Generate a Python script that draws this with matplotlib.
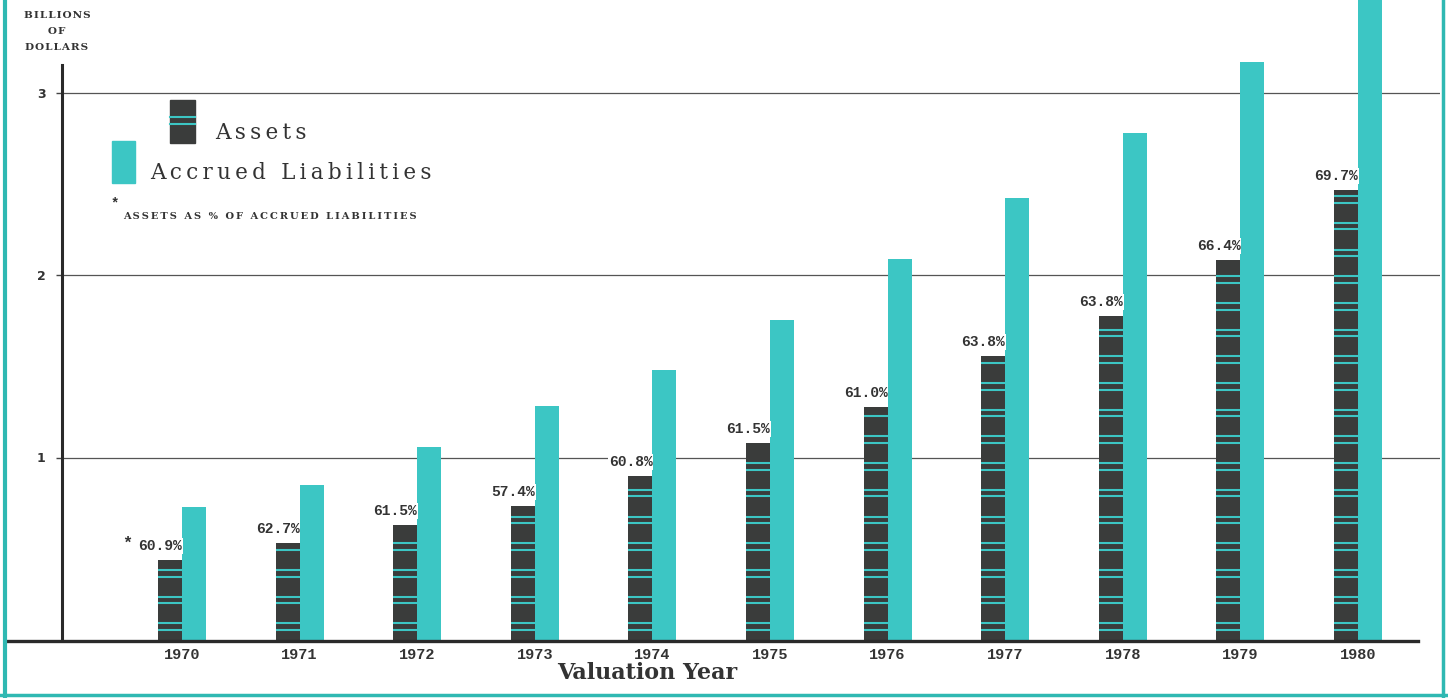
import matplotlib
matplotlib.use("Agg")
import matplotlib.pyplot as plt
from matplotlib.patches import Rectangle
from matplotlib.lines import Line2D
import numpy as np

# ---- data ----
years = ["1970", "1971", "1972", "1973", "1974", "1975", "1976", "1977", "1978", "1979", "1980"]
assets = [0.438, 0.532, 0.630, 0.734, 0.899, 1.079, 1.277, 1.556, 1.775, 2.082, 2.466]
liabilities = [0.729, 0.849, 1.058, 1.282, 1.479, 1.753, 2.088, 2.422, 2.778, 3.167, 3.54]
pct_labels = ["60.9%", "62.7%", "61.5%", "57.4%", "60.8%", "61.5%", "61.0%", "63.8%", "63.8%", "66.4%", "69.7%"]
y_ticks = [1, 2, 3]

CYAN = "#3cc6c4"
DARK = "#3a3c3b"
BORDER = "#2fb8b2"
TXT = "#333333"
W, H = 1448, 698
MONO = ["Liberation Mono", "DejaVu Sans Mono"]
SERIF = ["DejaVu Serif", "DejaVu Sans"]


def spaced(s, sep="\u2009"):
    return sep.join(s)


fig = plt.figure(figsize=(W / 100, H / 100), dpi=100)
fig.patch.set_facecolor("white")


def fx(x):
    return x / W


def fy(y):
    return 1 - y / H


px_per_unit = 182.5
base_y = 640
ax_left, ax_right = 62, 1440
ax = fig.add_axes([fx(ax_left), fy(base_y), fx(ax_right - ax_left), base_y / H])
ax.set_ylim(0, base_y / px_per_unit)
grp = 117.6
c0 = 182
ax.set_xlim((ax_left - c0) / grp, (ax_right - c0) / grp)

x = np.arange(len(years))
bw = 24 / grp

# gridlines
for t in y_ticks:
    ax.axhline(t, color="#555555", lw=0.9, zorder=0)

ax.bar(x, liabilities, width=bw, align="edge", color=CYAN, zorder=2)
ax.bar(x - bw, assets, width=bw, align="edge", color=DARK, zorder=2)

# stripes inside asset bars
period = 26.7 / px_per_unit
for xi, a in zip(x, assets):
    k = 0
    while True:
        ys = [(k + 0.375) * period, (k + 0.625) * period]
        if ys[0] > a - 0.03:
            break
        for yy in ys:
            if yy < a - 0.03:
                ax.hlines(yy, xi - bw, xi, color=CYAN, lw=1.5, zorder=3)
        k += 1

# percent labels
for i, (xi, a, lab) in enumerate(zip(x, assets, pct_labels)):
    ax.annotate(lab, (xi, a), xytext=(0, 5), textcoords="offset points",
                ha="right", va="bottom", fontsize=10.5, fontweight="bold",
                family=MONO, color=TXT, zorder=5,
                bbox=dict(boxstyle="square,pad=0.05", fc="white", ec="none"))
    if i == 0:
        ax.annotate("*", (xi, a), xytext=(-36, 7), textcoords="offset points",
                    ha="right", va="bottom", fontsize=12, fontweight="bold",
                    family=MONO, color=TXT, zorder=5)

# axes styling
for s in ["top", "right", "bottom"]:
    ax.spines[s].set_visible(False)
ax.spines["left"].set_linewidth(2.2)
ax.spines["left"].set_color("#2a2a2a")
ax.spines["left"].set_bounds(0, (base_y - 65) / px_per_unit)
ax.set_yticks(y_ticks)
ax.set_yticklabels([str(t) for t in y_ticks], fontsize=9, fontweight="bold",
                   family="DejaVu Sans", color=TXT)
ax.tick_params(axis="y", length=4, width=1, pad=8, color="#444444")
ax.set_xticks(x)
ax.set_xticklabels(years, fontsize=11, fontweight="bold", family=MONO, color=TXT)
ax.tick_params(axis="x", length=0, pad=6)
ax.set_facecolor("none")

# baseline
fig.add_artist(Line2D([fx(5), fx(1418)], [fy(base_y + 1), fy(base_y + 1)],
                      color="#2a2a2a", lw=2.4))

# borders
fig.add_artist(Line2D([fx(5), fx(5)], [0, 1], color=BORDER, lw=3))
fig.add_artist(Line2D([fx(1443), fx(1443)], [0, 1], color=BORDER, lw=2.5))
fig.add_artist(Line2D([0, 1], [fy(695), fy(695)], color=BORDER, lw=2.5))

# axis title
for txt, yy in [("BILLIONS", 15), ("OF", 31), ("DOLLARS", 47)]:
    fig.text(fx(57), fy(yy), spaced(txt, "\u200a"), ha="center", va="center", fontsize=7.5,
             fontweight="bold", family=SERIF, color=TXT)

fig.text(fx(647), fy(673), "Valuation Year", ha="center", va="center",
         fontsize=16, fontweight="bold", family=SERIF, color=TXT)

# legend
fig.add_artist(Rectangle((fx(170), fy(143)), fx(25), (143 - 100) / H,
                         transform=fig.transFigure, color=DARK))
for yy in [117, 124]:
    fig.add_artist(Line2D([fx(170), fx(195)], [fy(yy), fy(yy)], color=CYAN, lw=1.5))
fig.add_artist(Rectangle((fx(112), fy(183)), fx(23), (183 - 141) / H,
                         transform=fig.transFigure, color=CYAN))
fig.text(fx(215), fy(133), spaced("Assets"), ha="left", va="center", fontsize=15.5,
         family=SERIF, color=TXT)
fig.text(fx(150), fy(173), spaced("Accrued Liabilities"), ha="left", va="center",
         fontsize=15.5, family=SERIF, color=TXT)
fig.text(fx(115), fy(203), "*", ha="center", va="center", fontsize=10,
         fontweight="bold", family=MONO, color=TXT)
fig.text(fx(123), fy(217), spaced("ASSETS AS % OF ACCRUED LIABILITIES"), ha="left",
         va="center", fontsize=7.1, fontweight="bold", family=SERIF, color=TXT)

fig.savefig("out.png", dpi=100, facecolor="white")
